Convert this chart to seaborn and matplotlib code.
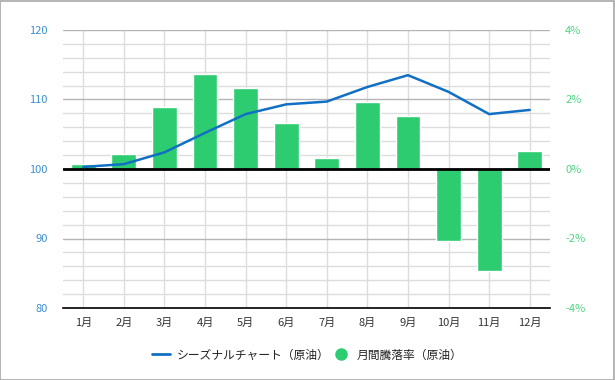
import numpy as np
import pandas as pd
import matplotlib
matplotlib.use("Agg")
import matplotlib.pyplot as plt
from matplotlib.lines import Line2D
from matplotlib.patches import Rectangle
from matplotlib.ticker import MultipleLocator, FuncFormatter
import seaborn as sns

months = ["1月", "2月", "3月", "4月", "5月", "6月", "7月", "8月", "9月", "10月", "11月", "12月"]
seasonal = [100.3, 100.7, 102.4, 105.2, 107.9, 109.3, 109.7, 111.8, 113.5, 111.1, 107.9, 108.5]
monthly_pct = [0.14, 0.43, 1.78, 2.73, 2.33, 1.32, 0.32, 1.93, 1.53, -2.07, -2.94, 0.53]
left_ticks = [80, 90, 100, 110, 120]
right_ticks = [-4, -2, 0, 2, 4]
line_label = "シーズナルチャート（原油）"
bar_label = "月間騰落率（原油）"

sns.set_theme(style="white")
plt.rcParams['font.family'] = ['Noto Sans CJK JP', 'DejaVu Sans']

LINE_C = "#1170c4"
BAR_C = "#2ecc71"
LEFT_TXT = "#3a8fd0"
RIGHT_TXT = "#52d487"

W, H = 615, 380
fig = plt.figure(figsize=(W / 100, H / 100), dpi=100)
fig.patch.set_facecolor("white")
fig.patches.append(Rectangle((0.0008, 0.0013), 0.9975, 0.997, transform=fig.transFigure,
                             fill=False, edgecolor="#a8a8a8", linewidth=1.2))

L, R, T, B = 63, 550, 30, 308
ax_bar = fig.add_axes([L / W, (H - B) / H, (R - L) / W, (B - T) / H])
df = pd.DataFrame({"month": months, "pct": monthly_pct})
sns.barplot(data=df, x="month", y="pct", color=BAR_C, saturation=1, width=0.61,
            ax=ax_bar, zorder=2)

ax_line = ax_bar.twinx()

ax_bar.set_ylim(-4, 4)
ax_bar.set_xlim(-0.5, len(months) - 0.5)
ax_bar.yaxis.set_major_locator(MultipleLocator(2))
ax_bar.yaxis.set_minor_locator(MultipleLocator(0.4))
ax_bar.yaxis.tick_right()
ax_bar.set_yticks(right_ticks)
ax_bar.yaxis.set_major_formatter(FuncFormatter(lambda v, p: f"{int(v)}%"))
ax_bar.grid(axis="y", which="major", color="#b5b5b5", linewidth=1.0, zorder=0)
ax_bar.grid(axis="y", which="minor", color="#dddddd", linewidth=1.0, zorder=0)
ax_bar.grid(axis="x", which="major", color="#dddddd", linewidth=1.0, zorder=0)
ax_bar.set_axisbelow(True)
ax_bar.set_xlabel("")
ax_bar.set_ylabel("")
ax_bar.tick_params(axis="y", which="both", length=0, pad=11, labelsize=8,
                   labelcolor=RIGHT_TXT, left=False, labelleft=False, right=False, labelright=True)
ax_bar.tick_params(axis="x", length=0, pad=7, labelsize=8, labelcolor="#333333")
for s in ["top", "left", "right"]:
    ax_bar.spines[s].set_visible(False)
ax_bar.spines["bottom"].set_color("black")
ax_bar.spines["bottom"].set_linewidth(1.2)

ax_line.axhline(100, color="black", linewidth=2, zorder=2)
sns.lineplot(x=np.arange(len(months)), y=seasonal, color=LINE_C, linewidth=1.8,
             ax=ax_line, zorder=3)
ax_line.set_ylim(80, 120)
ax_line.set_xlim(-0.5, len(months) - 0.5)
ax_line.set_yticks(left_ticks)
ax_line.tick_params(axis="y", length=0, pad=11, labelsize=8, labelcolor=LEFT_TXT,
                    left=False, labelleft=True, right=False, labelright=False)
for s in ["top", "left", "right", "bottom"]:
    ax_line.spines[s].set_visible(False)
ax_line.grid(False)
ax_line.set_ylabel("")

handles = [Line2D([0], [0], color=LINE_C, linewidth=2),
           Line2D([0], [0], marker="o", linestyle="", markerfacecolor=BAR_C,
                  markeredgecolor=BAR_C, markersize=8)]
fig.legend(handles, [line_label, bar_label], loc="center", bbox_to_anchor=(0.5, (H - 355) / H),
           ncol=2, frameon=False, fontsize=8.5, handlelength=1.5, handletextpad=0.6,
           columnspacing=0.2, labelcolor="#222222")

fig.savefig("out.png", dpi=100, facecolor="white")
